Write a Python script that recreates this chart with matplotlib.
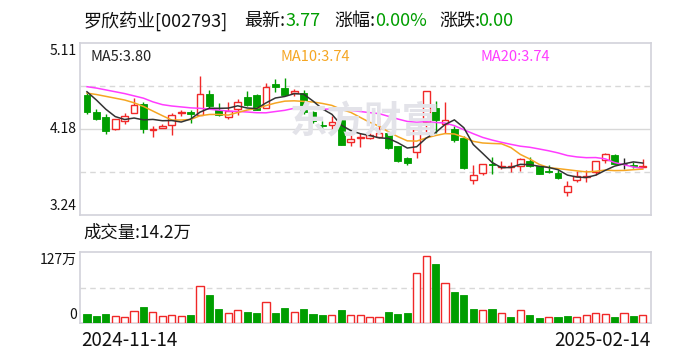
import matplotlib
matplotlib.use('Agg')
import matplotlib.pyplot as plt
import numpy as np
import pandas as pd
from matplotlib.patches import Rectangle

plt.rcParams['font.family'] = ['Noto Sans CJK SC', 'DejaVu Sans']

# ---------------- data ----------------
stock_name = "罗欣药业[002793]"
latest = "3.77"
pct_change = "0.00%"
abs_change = "0.00"
last_volume_label = "14.2万"
start_date = "2024-11-14"
end_date = "2025-02-14"
ma_labels = ["MA5:3.80", "MA10:3.74", "MA20:3.74"]

opens = [4.546, 4.357, 4.307, 4.179, 4.261, 4.350, 4.450, 4.165, 4.190, 4.221,
         4.350, 4.357, 4.332, 4.557, 4.385, 4.304, 4.396, 4.521, 4.546, 4.403,
         4.664, 4.618, 4.564, 4.564, 4.357, 4.218, 4.218, 4.268, 4.029, 4.072,
         4.082, 4.093, 4.136, 3.986, 3.861, 3.922, 4.254, 4.403, 4.225, 4.171,
         4.082, 3.625, 3.697, 3.797, 3.758, 3.758, 3.772, 3.825, 3.768, 3.715,
         3.697, 3.493, 3.618, 3.654, 3.708, 3.839, 3.897, 3.790, 3.786, 3.765]
highs = [4.575, 4.390, 4.343, 4.282, 4.350, 4.510, 4.468, 4.207, 4.225, 4.350,
         4.385, 4.385, 4.753, 4.600, 4.457, 4.468, 4.500, 4.589, 4.557, 4.671,
         4.714, 4.725, 4.607, 4.600, 4.368, 4.261, 4.321, 4.296, 4.107, 4.129,
         4.136, 4.307, 4.136, 3.986, 3.875, 4.179, 4.593, 4.482, 4.464, 4.207,
         4.100, 3.786, 3.790, 3.868, 3.822, 3.815, 3.857, 3.868, 3.768, 3.779,
         3.725, 3.615, 3.715, 3.733, 3.832, 3.914, 3.904, 3.857, 3.815, 3.850]
lows = [4.335, 4.270, 4.125, 4.168, 4.232, 4.350, 4.136, 4.093, 4.190, 4.114,
        4.314, 4.243, 4.332, 4.403, 4.314, 4.286, 4.332, 4.421, 4.386, 4.403,
        4.582, 4.546, 4.536, 4.339, 4.243, 4.154, 4.171, 4.004, 3.993, 3.982,
        4.064, 4.082, 3.957, 3.814, 3.779, 3.861, 4.136, 4.136, 4.136, 4.029,
        3.736, 3.572, 3.672, 3.690, 3.743, 3.708, 3.718, 3.761, 3.683, 3.697,
        3.629, 3.447, 3.600, 3.600, 3.679, 3.804, 3.790, 3.743, 3.750, 3.761]
closes = [4.357, 4.279, 4.154, 4.279, 4.321, 4.439, 4.179, 4.179, 4.207, 4.332,
          4.357, 4.339, 4.557, 4.421, 4.325, 4.368, 4.464, 4.439, 4.386, 4.636,
          4.636, 4.546, 4.593, 4.357, 4.261, 4.207, 4.254, 4.004, 4.064, 4.093,
          4.107, 4.129, 3.968, 3.832, 3.804, 4.179, 4.593, 4.271, 4.271, 4.057,
          3.754, 3.679, 3.790, 3.779, 3.768, 3.768, 3.850, 3.772, 3.690, 3.704,
          3.647, 3.557, 3.665, 3.665, 3.832, 3.904, 3.790, 3.790, 3.770, 3.770]
# volume in 万
volumes = [16.1, 12.5, 16.1, 11.9, 10.1, 20.9, 28.6, 19.1, 11.9, 13.7,
           11.9, 14.3, 65.6, 50.1, 25.0, 17.3, 22.6, 19.7, 17.9, 37.0,
           17.9, 26.8, 19.1, 25.0, 16.1, 14.3, 13.7, 23.2, 13.7, 13.7,
           10.1, 10.1, 19.7, 16.1, 17.9, 88.8, 119.8, 105.5, 70.9, 55.4,
           50.1, 25.0, 22.6, 25.0, 17.3, 10.7, 22.6, 14.3, 8.9, 10.1,
           10.7, 12.5, 10.1, 13.7, 17.9, 15.5, 10.7, 17.9, 12.5, 14.2]
# 1 = red (up) volume bar, 0 = green
vol_up = [0, 0, 0, 1, 1, 1, 0, 1, 1, 1,
          1, 0, 1, 0, 0, 1, 1, 0, 0, 1,
          0, 0, 1, 0, 0, 0, 1, 0, 1, 1,
          1, 1, 0, 0, 0, 1, 1, 0, 1, 0,
          0, 0, 1, 0, 1, 0, 1, 0, 0, 1,
          0, 0, 1, 1, 1, 1, 0, 1, 0, 1]
# moving-average values before enough in-window history exists
ma5_head = [4.58, 4.49, 4.39, 4.31]
ma10_head = [4.565, 4.55, 4.53, 4.51, 4.49, 4.46, 4.42, 4.37, 4.32]
ma20_head = [4.635, 4.62, 4.60, 4.58, 4.56, 4.535, 4.51, 4.47, 4.44, 4.425,
             4.415, 4.405, 4.40, 4.39, 4.38, 4.37, 4.365, 4.36, 4.352]
price_ticks = [5.11, 4.18, 3.24]
vol_max = 127

# ---------------- styling ----------------
RED = '#f02828'
GREEN = '#009e00'
BLACK = '#222222'
C_MA5 = '#333333'
C_MA10 = '#f5a623'
C_MA20 = '#ff3cff'
BORDER = '#d2d2da'
GRID = '#d8d8d8'

W, H = 688, 360
fig = plt.figure(figsize=(W / 100, H / 100), dpi=100)


def rect(l, t, r, b):
    return [l / W, 1 - b / H, (r - l) / W, (b - t) / H]


def T(x, y, s, **kw):
    fig.text(x / W, 1 - y / H, s, **kw)


axp = fig.add_axes(rect(80, 43, 651, 215))
axv = fig.add_axes(rect(80, 252, 651, 323))

n = len(closes)
x = np.arange(n)
xlim = (-0.74, n - 1 + 0.87)

# ---------- price panel ----------
axp.set_xlim(*xlim)
axp.set_ylim(3.24, 5.11)
lo, hi = 3.24, 5.11
step = (hi - lo) / 4
axp.axhline(lo + 2 * step, color=GRID, lw=1, zorder=0)
for k in (1, 3):
    axp.axhline(lo + k * step, color=GRID, lw=1, ls=(0, (4, 3)), zorder=0)

# watermark
T(365, 122, "东方财富", fontsize=27, fontweight='bold', color='#e3e3e9',
  ha='center', va='center', style='italic', zorder=0.5)

bw = 0.72
tiny = 0.006
for i in range(n):
    o, h, l, c = opens[i], highs[i], lows[i], closes[i]
    if c > o:
        col = RED
    elif c < o:
        col = GREEN
    else:
        col = BLACK
    bot = min(o, c)
    top = max(o, c)
    hgt = max(top - bot, tiny)
    if col == RED:
        axp.plot([i, i], [top, h], color=col, lw=1, zorder=2, solid_capstyle='butt')
        axp.plot([i, i], [l, bot], color=col, lw=1, zorder=2, solid_capstyle='butt')
        axp.add_patch(Rectangle((i - bw / 2, bot), bw, hgt, facecolor='white',
                                edgecolor=col, lw=1.0, zorder=3))
    else:
        axp.plot([i, i], [l, h], color=col, lw=1, zorder=2, solid_capstyle='butt')
        axp.add_patch(Rectangle((i - bw / 2, bot), bw, hgt, facecolor=col,
                                edgecolor=col, lw=0.6, zorder=3))

cl = pd.Series(closes)
ma5 = cl.rolling(5).mean().to_numpy()
ma10 = cl.rolling(10).mean().to_numpy()
ma20 = cl.rolling(20).mean().to_numpy()
ma5[:len(ma5_head)] = ma5_head
ma10[:len(ma10_head)] = ma10_head
ma20[:len(ma20_head)] = ma20_head

axp.plot(x, ma20, color=C_MA20, lw=1.1, zorder=4)
axp.plot(x, ma10, color=C_MA10, lw=1.1, zorder=4)
axp.plot(x, ma5, color=C_MA5, lw=1.1, zorder=4)

# ---------- volume panel ----------
axv.set_xlim(*xlim)
axv.set_ylim(0, vol_max)
axv.axhline(vol_max / 2, color=GRID, lw=1, ls=(0, (4, 3)), zorder=0)
vw = 0.76
for i in range(n):
    if vol_up[i]:
        axv.add_patch(Rectangle((i - vw / 2, 0), vw, volumes[i], facecolor='white',
                                edgecolor=RED, lw=1.0, zorder=3))
    else:
        axv.add_patch(Rectangle((i - vw / 2, 0), vw, volumes[i], facecolor=GREEN,
                                edgecolor=GREEN, lw=0.6, zorder=3))

for ax in (axp, axv):
    ax.set_xticks([])
    ax.set_yticks([])
    ax.patch.set_alpha(0)
    for sp in ax.spines.values():
        sp.set_color(BORDER)
        sp.set_linewidth(1.2)

# ---------- texts ----------
tfs = 13
T(84, 21, stock_name, fontsize=tfs, color='#111111', va='center', ha='left')
T(244, 21, "最新:", fontsize=tfs, color='#111111', va='center', ha='left')
T(285, 21, latest, fontsize=tfs, color=GREEN, va='center', ha='left')
T(334, 21, "涨幅:", fontsize=tfs, color='#111111', va='center', ha='left')
T(375, 21, pct_change, fontsize=tfs, color=GREEN, va='center', ha='left')
T(439, 21, "涨跌:", fontsize=tfs, color='#111111', va='center', ha='left')
T(478, 21, abs_change, fontsize=tfs, color=GREEN, va='center', ha='left')

mfs = 10.5
T(90, 57, ma_labels[0], fontsize=mfs, color='#222222', va='center', ha='left')
T(280, 57, ma_labels[1], fontsize=mfs, color=C_MA10, va='center', ha='left')
T(480, 57, ma_labels[2], fontsize=mfs, color=C_MA20, va='center', ha='left')

yfs = 10
T(77, 51, f"{price_ticks[0]:.2f}", fontsize=yfs, color='#111111', va='center', ha='right')
T(77, 129, f"{price_ticks[1]:.2f}", fontsize=yfs, color='#111111', va='center', ha='right')
T(77, 206, f"{price_ticks[2]:.2f}", fontsize=yfs, color='#111111', va='center', ha='right')

T(83, 233, "成交量:" + last_volume_label, fontsize=12.5, color='#111111', va='center', ha='left')
T(77, 260, f"{vol_max}万", fontsize=yfs, color='#111111', va='center', ha='right')
T(77, 315, "0", fontsize=yfs, color='#111111', va='center', ha='right')

T(81, 341, start_date, fontsize=13.5, color='#111111', va='center', ha='left')
T(651, 341, end_date, fontsize=13.5, color='#111111', va='center', ha='right')

fig.savefig('out.png', dpi=100, facecolor='white')
